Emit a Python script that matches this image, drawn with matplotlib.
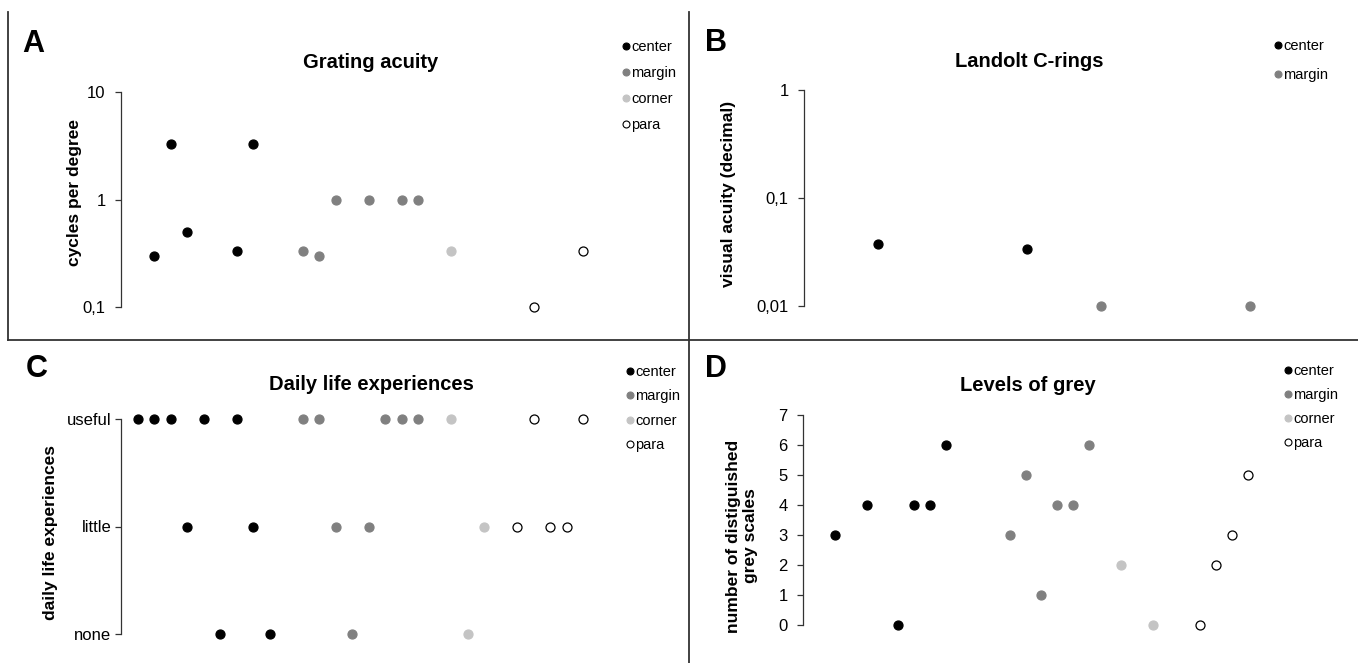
import matplotlib
matplotlib.use("Agg")
import matplotlib.pyplot as plt
from matplotlib.lines import Line2D

plt.rcParams['font.family'] = ['Liberation Sans', 'DejaVu Sans']

# Data (x = patient position along the axis)
groups = ['center', 'margin', 'corner', 'para']

# A: grating acuity (cycles per degree)
a_x = {'center': [2, 3, 4, 7, 8], 'margin': [11, 12, 13, 15, 17, 18],
       'corner': [20], 'para': [25, 28]}
a_y = {'center': [0.3, 3.3, 0.5, 0.33, 3.3], 'margin': [0.33, 0.3, 1, 1, 1, 1],
       'corner': [0.33], 'para': [0.1, 0.33]}

# B: Landolt C-rings (decimal acuity)
b_x = {'center': [1, 3], 'margin': [4, 6]}
b_y = {'center': [0.0375, 0.0335], 'margin': [0.01, 0.01]}

# C: daily life experiences
c_levels = ['none', 'little', 'useful']
c_x = {'center': [1, 2, 3, 4, 5, 6, 7, 8, 9],
       'margin': [11, 12, 13, 14, 15, 16, 17, 18],
       'corner': [20, 21, 22], 'para': [24, 25, 26, 27, 28]}
c_y = {'center': ['useful', 'useful', 'useful', 'little', 'useful', 'none', 'useful', 'little', 'none'],
       'margin': ['useful', 'useful', 'little', 'none', 'little', 'useful', 'useful', 'useful'],
       'corner': ['useful', 'none', 'little'],
       'para': ['little', 'useful', 'little', 'little', 'useful']}

# D: levels of grey
d_x = {'center': [2, 4, 6, 7, 8, 9], 'margin': [13, 14, 15, 16, 17, 18],
       'corner': [20, 22], 'para': [25, 26, 27, 28]}
d_y = {'center': [3, 4, 0, 4, 4, 6], 'margin': [3, 5, 1, 4, 4, 6],
       'corner': [2, 0], 'para': [0, 2, 3, 5]}

face = {'center': '#000000', 'margin': '#808080', 'corner': '#c4c4c4', 'para': '#ffffff'}
edge = {'center': '#000000', 'margin': '#808080', 'corner': '#c4c4c4', 'para': '#000000'}

W, H = 1358, 663
fig = plt.figure(figsize=(W / 100, H / 100), dpi=100)


def px(x, y):
    return x / W, 1 - y / H


def make_axes(left, top, right, bottom):
    ax = fig.add_axes([left / W, 1 - bottom / H, (right - left) / W, (bottom - top) / H])
    for s in ['top', 'right', 'bottom']:
        ax.spines[s].set_visible(False)
    ax.spines['left'].set_color('#333333')
    ax.spines['left'].set_linewidth(0.9)
    ax.set_xticks([])
    ax.tick_params(axis='y', length=4, width=0.9, color='#333333', labelsize=12, pad=7)
    ax.minorticks_off()
    return ax


def scatter(ax, xs, ys, keys):
    for g in keys:
        ax.scatter(xs[g], ys[g], s=42, c=face[g], edgecolors=edge[g],
                   linewidths=0.9, clip_on=False, zorder=3)


def legend(ax, keys, x, y, spacing):
    handles = [Line2D([], [], linestyle='', marker='o', markersize=5,
                      markerfacecolor=face[g], markeredgecolor=edge[g],
                      markeredgewidth=0.8) for g in keys]
    ax.legend(handles, keys, loc='upper left', bbox_to_anchor=px(x, y),
              bbox_transform=fig.transFigure, frameon=False, fontsize=10.5,
              handlelength=0.5, handletextpad=0.15, borderpad=0,
              borderaxespad=0, labelspacing=spacing)


# Panel A
axA = make_axes(121, 92, 599.5, 307)
axA.set_yscale('log')
scatter(axA, a_x, a_y, groups)
axA.set_xlim(0, 29)
axA.set_ylim(0.1, 10)
axA.set_yticks([0.1, 1, 10], ['0,1', '1', '10'])
axA.minorticks_off()
legend(axA, groups, 622, 40, 0.82)

# Panel B
axB = make_axes(804, 90, 1265, 306)
axB.set_yscale('log')
scatter(axB, b_x, b_y, ['center', 'margin'])
axB.set_xlim(0, 6.2)
axB.set_ylim(0.01, 1)
axB.set_yticks([0.01, 0.1, 1], ['0,01', '0,1', '1'])
axB.minorticks_off()
legend(axB, ['center', 'margin'], 1274, 39, 1.02)

# Panel C
axC = make_axes(121, 419, 599.5, 634)
c_num = {g: [c_levels.index(v) for v in c_y[g]] for g in groups}
scatter(axC, c_x, c_num, groups)
axC.set_xlim(0, 29)
axC.set_ylim(0, 2)
axC.set_yticks([0, 1, 2], c_levels)
axC.tick_params(axis='y', pad=3)
legend(axC, groups, 626, 365, 0.71)

# Panel D
axD = make_axes(803, 415, 1264, 625)
scatter(axD, d_x, d_y, groups)
axD.set_xlim(0, 29)
axD.set_ylim(0, 7)
axD.set_yticks(range(8))
legend(axD, groups, 1284, 364, 0.68)

# Titles, panel letters, axis labels
for txt, x, y in [('Grating acuity', 371, 68), ('Landolt C-rings', 1029, 67),
                  ('Daily life experiences', 371, 390), ('Levels of grey', 1028, 391)]:
    fig.text(*px(x, y), txt, ha='center', va='baseline', fontsize=14.5, fontweight='bold')
for txt, x, y in [('A', 22, 52), ('B', 705, 51), ('C', 26, 377), ('D', 705, 377)]:
    fig.text(*px(x, y), txt, ha='left', va='baseline', fontsize=22, fontweight='bold')
for txt, x, y in [('cycles per degree', 74, 192), ('visual acuity (decimal)', 729, 194),
                  ('daily life experiences', 51, 532),
                  ('number of distiguished\ngrey scales', 742, 536)]:
    fig.text(*px(x, y), txt, ha='center', va='center', rotation=90, fontsize=12.5,
             fontweight='bold', linespacing=1.15)

# Frame lines between panels
for xs, ys in [([8, 8], [12, 340]), ([8, W], [340, 340]), ([689, 689], [12, H])]:
    fig.add_artist(Line2D([x / W for x in xs], [1 - y / H for y in ys],
                          color='#333333', linewidth=1.3, transform=fig.transFigure))

fig.savefig('out.png', dpi=100)
